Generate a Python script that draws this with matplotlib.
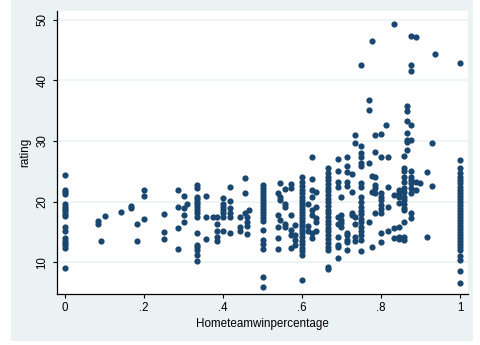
import numpy as np
import matplotlib
matplotlib.use("Agg")
import matplotlib.pyplot as plt
from matplotlib.patches import Rectangle

plt.rcParams['font.family'] = ['Liberation Sans', 'DejaVu Sans']

# home team win percentage (distinct values) and the ratings observed at each
win_pct = [0.0, 0.083, 0.091, 0.1, 0.143, 0.167, 0.182, 0.2, 0.25, 0.286,
           0.3, 0.308, 0.333, 0.357, 0.375, 0.385, 0.4, 0.417, 0.444, 0.455,
           0.462, 0.467, 0.5, 0.538, 0.545, 0.556, 0.571, 0.583, 0.6, 0.615,
           0.625, 0.636, 0.667, 0.692, 0.7, 0.714, 0.727, 0.733, 0.75, 0.769,
           0.778, 0.786, 0.8, 0.813, 0.818, 0.833, 0.846, 0.857, 0.867, 0.875,
           0.889, 0.9, 0.917, 0.929, 0.938, 1.0]

ratings = [
    [24.4, 22.0, 21.6, 21.2, 19.6, 19.2, 18.8, 18.4, 18.0, 17.6, 15.9, 15.1,
     14.0, 13.6, 13.2, 12.8, 12.4, 9.0],
    [16.8, 16.4],
    [13.5],
    [17.7],
    [18.3],
    [19.3, 18.9],
    [16.4, 13.5],
    [21.9, 21.0, 17.2],
    [18.0, 15.0, 13.8],
    [21.9, 19.2, 15.7, 12.2],
    [20.9, 18.9, 17.8, 16.7],
    [19.7],
    [22.8, 22.3, 20.8, 20.5, 20.0, 19.6, 19.2, 18.7, 18.2, 17.4, 14.8, 12.9,
     12.5, 12.0, 11.2, 10.3],
    [21.0, 17.5, 13.8],
    [17.4],
    [17.5, 16.3, 15.1, 14.2, 13.6],
    [20.6, 19.7, 19.2, 18.6, 18.1, 17.4, 15.2],
    [22.5, 20.1, 18.9, 18.1, 17.4, 14.9],
    [17.4, 15.9, 15.1],
    [23.9, 21.4, 18.1],
    [17.5, 16.7, 16.0, 14.7],
    [18.6],
    [22.8, 22.3, 21.8, 21.3, 20.8, 20.3, 19.8, 19.3, 18.8, 18.3, 17.8, 17.3,
     16.8, 15.3, 13.7, 13.0, 12.2, 7.6, 6.0],
    [21.4, 17.8, 15.9, 14.0, 12.2],
    [23.1, 20.7, 20.3, 17.0],
    [22.1, 19.7, 19.2, 16.4, 15.8],
    [22.9, 22.2, 17.8, 15.3, 14.5, 12.3],
    [16.2, 14.5, 13.7, 12.9],
    [24.0, 23.3, 22.6, 22.0, 21.4, 20.8, 20.3, 19.8, 19.3, 18.8, 18.3, 17.8,
     17.3, 16.8, 16.3, 15.8, 15.3, 14.8, 14.2, 13.6, 13.0, 12.4, 11.8, 11.2,
     7.1],
    [19.7, 16.0, 15.1],
    [27.3, 23.7, 22.0, 20.8, 18.6, 17.8, 14.8, 14.0],
    [21.6, 19.2, 17.3, 16.7, 15.2],
    [25.5, 24.8, 24.1, 23.5, 22.9, 22.3, 21.7, 21.1, 20.5, 19.9, 19.3, 18.7,
     18.1, 17.5, 16.9, 16.3, 15.7, 15.1, 14.5, 13.9, 13.2, 12.6, 12.0, 9.3,
     8.9],
    [27.1, 25.1, 23.3, 22.5, 17.5, 16.4, 14.2, 12.9, 12.6, 10.7],
    [20.8, 17.8, 17.0, 16.5, 15.9],
    [27.4, 25.9, 24.9, 23.3, 22.6, 14.8, 14.5, 13.7, 13.4, 12.1],
    [24.6, 21.6, 18.1, 17.8],
    [31.0, 29.7, 17.5, 16.4, 14.1, 13.5],
    [42.5, 29.2, 28.1, 27.3, 26.4, 25.8, 23.0, 22.4, 20.8, 20.0, 19.2, 18.5,
     17.9, 17.2, 16.6, 15.9, 15.2, 14.5, 13.7, 11.8],
    [36.7, 35.1, 26.3, 16.7],
    [46.5, 24.2, 21.6, 12.6],
    [31.0, 28.2, 24.1, 22.7, 22.2, 21.5, 18.1],
    [31.1, 27.3, 21.4, 20.8, 20.2, 19.5, 18.8, 18.1, 14.8, 13.4],
    [32.7],
    [27.3, 22.5, 19.2, 15.1],
    [49.2, 21.1, 15.6, 14.0],
    [21.9, 21.5, 20.8, 19.8, 15.9, 14.1, 13.8],
    [27.6, 25.5, 25.0, 24.1, 23.3, 22.2, 21.6, 20.8, 20.3, 19.7, 18.9, 18.6,
     16.7, 14.2, 13.7],
    [35.8, 35.0, 33.3, 31.3, 30.2, 29.9, 28.5],
    [47.3, 42.5, 41.6, 32.6, 30.2, 25.0, 24.1, 23.6, 23.0, 22.2, 21.5, 18.1,
     17.3],
    [47.2, 23.3, 21.9],
    [23.0],
    [24.9, 14.1],
    [29.6, 22.6],
    [44.4],
    [42.8, 26.9, 25.6, 24.7, 24.1, 23.5, 23.0, 22.5, 22.0, 21.5, 21.0, 20.5,
     20.0, 19.5, 19.0, 18.5, 18.0, 17.5, 17.0, 16.5, 16.0, 15.5, 15.0, 14.5,
     14.0, 13.5, 13.0, 12.5, 12.0, 11.0, 10.4, 8.6, 6.6],
]

x_ticks = [0, 0.2, 0.4, 0.6, 0.8, 1]
x_ticklabels = ['0', '.2', '.4', '.6', '.8', '1']
y_ticks = [10, 20, 30, 40, 50]

x = np.concatenate([[p] * len(r) for p, r in zip(win_pct, ratings)])
y = np.concatenate(ratings)

bg = '#eaf2f3'
navy = '#1a476f'

fig = plt.figure(figsize=(4.8, 3.45), dpi=100, facecolor='white')
# outer graph region, kept behind the axes
fig.patches.append(Rectangle((11 / 480, 4.3 / 345), 462 / 480, 340.7 / 345,
                             transform=fig.transFigure, facecolor=bg,
                             edgecolor='none', zorder=-10))

ax = fig.add_axes([57 / 480, 51 / 345, 411 / 480, 283 / 345])
ax.set_zorder(1)
ax.set_facecolor('white')
ax.scatter(x, y, s=20, color=navy, linewidths=0, zorder=3)

ax.set_xlim(-0.0203, 1.0203)
ax.set_ylim(4.79, 51.42)
ax.set_xticks(x_ticks)
ax.set_xticklabels(x_ticklabels)
ax.set_yticks(y_ticks)

ax.yaxis.grid(True, color=bg, linewidth=1.1)
ax.set_axisbelow(True)

for side in ('top', 'right'):
    ax.spines[side].set_visible(False)
for side in ('left', 'bottom'):
    ax.spines[side].set_linewidth(0.9)

ax.tick_params(axis='both', length=3, width=0.8, labelsize=8.3, color='black')
ax.tick_params(axis='x', pad=2.5)
ax.tick_params(axis='y', pad=3, labelrotation=90)
for lab in ax.get_yticklabels():
    lab.set_va('center')

ax.set_xlabel('Hometeamwinpercentage', fontsize=8.4, labelpad=3)
ax.set_ylabel('rating', fontsize=8.4, labelpad=4)

fig.savefig('out.png', dpi=100, facecolor='white')
